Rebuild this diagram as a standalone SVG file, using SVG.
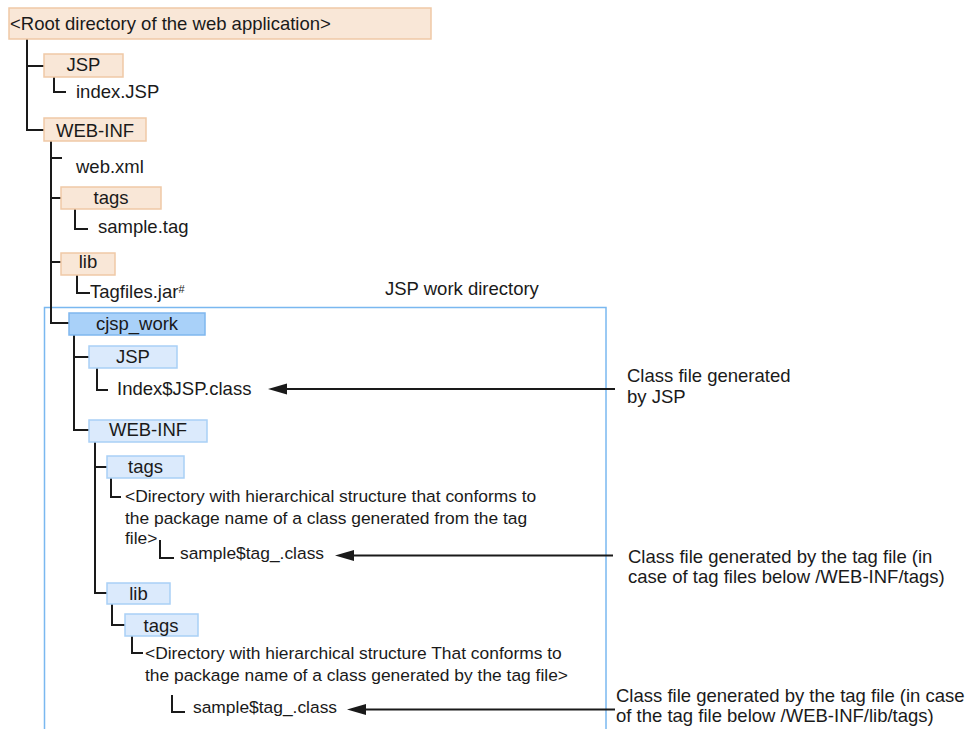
<svg xmlns="http://www.w3.org/2000/svg" width="969" height="729" viewBox="0 0 969 729">
  <style>
    text { font-family: "Liberation Sans", Arial, sans-serif; font-size: 18.5px; fill: #1a1a1a; }
    .c { text-anchor: middle; }
    .s { font-size: 17.4px; }
    .sup { font-size: 11px; }
    .dir { fill: #f9e7d7; stroke: #efc9a6; stroke-width: 1.5; }
    .wdir { fill: #dbeafc; stroke: #a9d0f6; stroke-width: 1.5; }
    .wroot { fill: #a9d1f9; stroke: #7fb7ee; stroke-width: 1.5; }
    .tree { fill: none; stroke: #1a1a1a; stroke-width: 2; }
    .arrow { fill: none; stroke: #1a1a1a; stroke-width: 2; }
    .head { fill: #1a1a1a; }
    .area { fill: none; stroke: #7ab8f0; stroke-width: 1.5; }
  </style>

  <!-- JSP work directory area -->
  <g id="work-area">
    <rect class="area" x="44.5" y="307.5" width="561.5" height="440"/>
    <text x="385" y="295">JSP work directory</text>
  </g>

  <!-- tree connectors and annotation arrows -->
  <g id="connectors">
    <path class="tree" d="M27,39 V130 H44 M27,66 H44"/>
    <path class="tree" d="M54,77 V92 H66"/>
    <path class="tree" d="M51,141 V323 H69 M51,158 H62 M51,198 H61 M51,262 H61"/>
    <path class="tree" d="M75,209 V229 H88"/>
    <path class="tree" d="M77,275 V293 H90"/>
    <path class="tree" d="M74,335 V430 H89 M74,357 H89"/>
    <path class="tree" d="M97,368 V390 H108"/>
    <path class="tree" d="M95,442 V593 H107 M95,467 H107"/>
    <path class="tree" d="M111,478 V497 H121"/>
    <path class="tree" d="M160,540 V558 H174"/>
    <path class="tree" d="M112,604 V625 H125"/>
    <path class="tree" d="M132,636 V653 H143"/>
    <path class="tree" d="M172,695 V712 H185"/>
    <path class="arrow" d="M615,389 H287"/>
    <polygon class="head" points="268,389 287,383.5 287,394.5"/>
    <path class="arrow" d="M613,555.5 H354"/>
    <polygon class="head" points="335,555.5 354,550 354,561"/>
    <path class="arrow" d="M615,709.5 H366"/>
    <polygon class="head" points="347,709.5 366,704 366,715"/>
  </g>

  <g id="root">
    <rect class="dir" x="9" y="8" width="422" height="31"/>
    <text x="10" y="29.5">&lt;Root directory of the web application&gt;</text>
  </g>

  <g id="jsp">
    <rect class="dir" x="44" y="54" width="79" height="23"/>
    <text class="c" x="83.5" y="71">JSP</text>
  </g>
  <g id="index-jsp"><text x="76" y="98">index.JSP</text></g>

  <g id="web-inf">
    <rect class="dir" x="44" y="118" width="102" height="23"/>
    <text class="c" x="95" y="136.5">WEB-INF</text>
  </g>
  <g id="web-xml"><text x="76" y="173">web.xml</text></g>

  <g id="tags">
    <rect class="dir" x="61" y="187" width="100" height="22"/>
    <text class="c" x="111" y="203.5">tags</text>
  </g>
  <g id="sample-tag"><text x="98" y="233">sample.tag</text></g>

  <g id="lib">
    <rect class="dir" x="61" y="253" width="54" height="22"/>
    <text class="c" x="88" y="268">lib</text>
  </g>
  <g id="tagfiles-jar">
    <text x="90" y="298">Tagfiles.jar<tspan class="sup" dy="-5">#</tspan></text>
  </g>

  <g id="cjsp-work">
    <rect class="wroot" x="69" y="313" width="136" height="22"/>
    <text class="c" x="137" y="330">cjsp_work</text>
  </g>

  <g id="work-jsp">
    <rect class="wdir" x="89" y="346" width="88" height="22"/>
    <text class="c" x="133" y="363">JSP</text>
  </g>
  <g id="index-class"><text x="117" y="394.5">Index$JSP.class</text></g>

  <g id="work-web-inf">
    <rect class="wdir" x="89" y="420" width="118" height="22"/>
    <text class="c" x="148" y="436">WEB-INF</text>
  </g>

  <g id="work-tags">
    <rect class="wdir" x="107" y="456" width="77" height="22"/>
    <text class="c" x="145.5" y="473">tags</text>
  </g>
  <g id="tags-package-dir">
    <text class="s" x="125" y="501.5">&lt;Directory with hierarchical structure that conforms to</text>
    <text class="s" x="125" y="524">the package name of a class generated from the tag</text>
    <text class="s" x="125" y="543.5">file&gt;</text>
  </g>
  <g id="tags-class"><text class="s" x="180" y="558.5">sample$tag_.class</text></g>

  <g id="work-lib">
    <rect class="wdir" x="107" y="583" width="63" height="21"/>
    <text class="c" x="138.5" y="600">lib</text>
  </g>
  <g id="work-lib-tags">
    <rect class="wdir" x="125" y="614" width="73" height="22"/>
    <text class="c" x="161" y="631.5">tags</text>
  </g>
  <g id="lib-tags-package-dir">
    <text class="s" x="145" y="659">&lt;Directory with hierarchical structure That conforms to</text>
    <text class="s" x="145" y="680.5">the package name of a class generated by the tag file&gt;</text>
  </g>
  <g id="lib-tags-class"><text class="s" x="193" y="713">sample$tag_.class</text></g>

  <!-- annotations -->
  <g id="note-jsp">
    <text x="627" y="382">Class file generated</text>
    <text x="627" y="403">by JSP</text>
  </g>
  <g id="note-tags">
    <text x="628" y="563">Class file generated by the tag file (in</text>
    <text x="628" y="583">case of tag files below /WEB-INF/tags)</text>
  </g>
  <g id="note-lib-tags">
    <text x="616" y="702">Class file generated by the tag file (in case</text>
    <text x="616" y="722">of the tag file below /WEB-INF/lib/tags)</text>
  </g>
</svg>
